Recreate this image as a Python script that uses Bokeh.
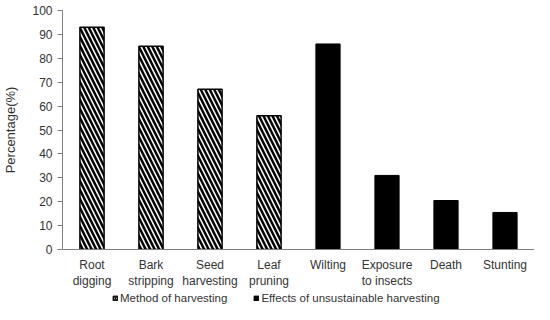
from bokeh.plotting import figure
from bokeh.layouts import column
from bokeh.models import ColumnDataSource, Legend, LegendItem, FactorRange, SingleIntervalTicker, Range1d
from bokeh.embed import file_html
from bokeh.resources import INLINE

method_cats = ["Root\ndigging", "Bark\nstripping", "Seed\nharvesting", "Leaf\npruning"]
method_vals = [93, 85, 67, 56]
effect_cats = ["Wilting", "Exposure\nto insects", "Death", "Stunting"]
effect_vals = [86, 31, 20.5, 15.5]
legend_labels = ["Method of harvesting", "Effects of unsustainable harvesting"]
y_ticks_interval = 10
FONT = "Liberation Sans"
TXT = "#333333"
AX = "#7f7f7f"

src1 = ColumnDataSource(dict(x=method_cats, top=method_vals))
src2 = ColumnDataSource(dict(x=effect_cats, top=effect_vals))

p = figure(x_range=FactorRange(*(method_cats + effect_cats)), y_range=(0, 100),
           width=534, height=291, output_backend="svg", toolbar_location=None,
           min_border_left=60, min_border_right=0, min_border_top=10, min_border_bottom=41)

hatched = dict(fill_color="white", line_color="black", hatch_pattern="left_diagonal_line",
               hatch_color="black")
p.vbar(x="x", top="top", width=0.41, source=src1, line_width=1.5,
       hatch_scale=9, hatch_weight=2.5, **hatched)
p.vbar(x="x", top="top", width=0.41, source=src2, fill_color="black",
       line_color="black", line_width=1)

p.xgrid.visible = False
p.ygrid.visible = False
p.outline_line_color = None

ya = p.yaxis[0]
ya.ticker = SingleIntervalTicker(interval=y_ticks_interval)
ya.major_tick_out = 5
ya.major_tick_in = 0
ya.minor_tick_out = 0
ya.minor_tick_in = 0
ya.axis_line_color = AX
ya.major_tick_line_color = AX
ya.major_label_text_font = FONT
ya.major_label_text_font_size = "12px"
ya.major_label_text_color = TXT
ya.major_label_standoff = 5
ya.axis_label = "Percentage(%)"
ya.axis_label_text_font = FONT
ya.axis_label_text_font_size = "13px"
ya.axis_label_text_font_style = "normal"
ya.axis_label_text_color = TXT
ya.axis_label_standoff = 11

xa = p.xaxis[0]
xa.major_tick_out = 0
xa.major_tick_in = 0
xa.minor_tick_out = 0
xa.axis_line_color = AX
xa.major_label_text_font = FONT
xa.major_label_text_font_size = "12px"
xa.major_label_text_color = TXT
xa.major_label_standoff = 8

# legend strip below the chart (its frame is aligned with the chart frame)
lf = figure(width=534, height=13, x_range=Range1d(0, 1), y_range=Range1d(0, 1),
            output_backend="svg", toolbar_location=None, x_axis_type=None, y_axis_type=None,
            min_border_left=60, min_border_right=0, min_border_top=0, min_border_bottom=0)
lf.xgrid.visible = False
lf.ygrid.visible = False
lf.outline_line_color = None
d1 = lf.vbar(x=[-5], top=[-5], width=0.5, line_width=1, hatch_scale=4, hatch_weight=1.5, **hatched)
d2 = lf.vbar(x=[-5], top=[-5], width=0.5, fill_color="black", line_color="black")
legend = Legend(items=[LegendItem(label=legend_labels[0], renderers=[d1]),
                       LegendItem(label=legend_labels[1], renderers=[d2])],
                orientation="horizontal", location=(50, 0),
                glyph_width=6, glyph_height=6, label_height=13, label_standoff=2,
                spacing=26, padding=0, margin=0,
                label_text_font=FONT, label_text_font_size="11.5px", label_text_color=TXT,
                border_line_color=None, background_fill_alpha=0)
lf.add_layout(legend, "center")

layout = column(p, lf, spacing=0)
open("out.html", "w").write(file_html(layout, INLINE))
